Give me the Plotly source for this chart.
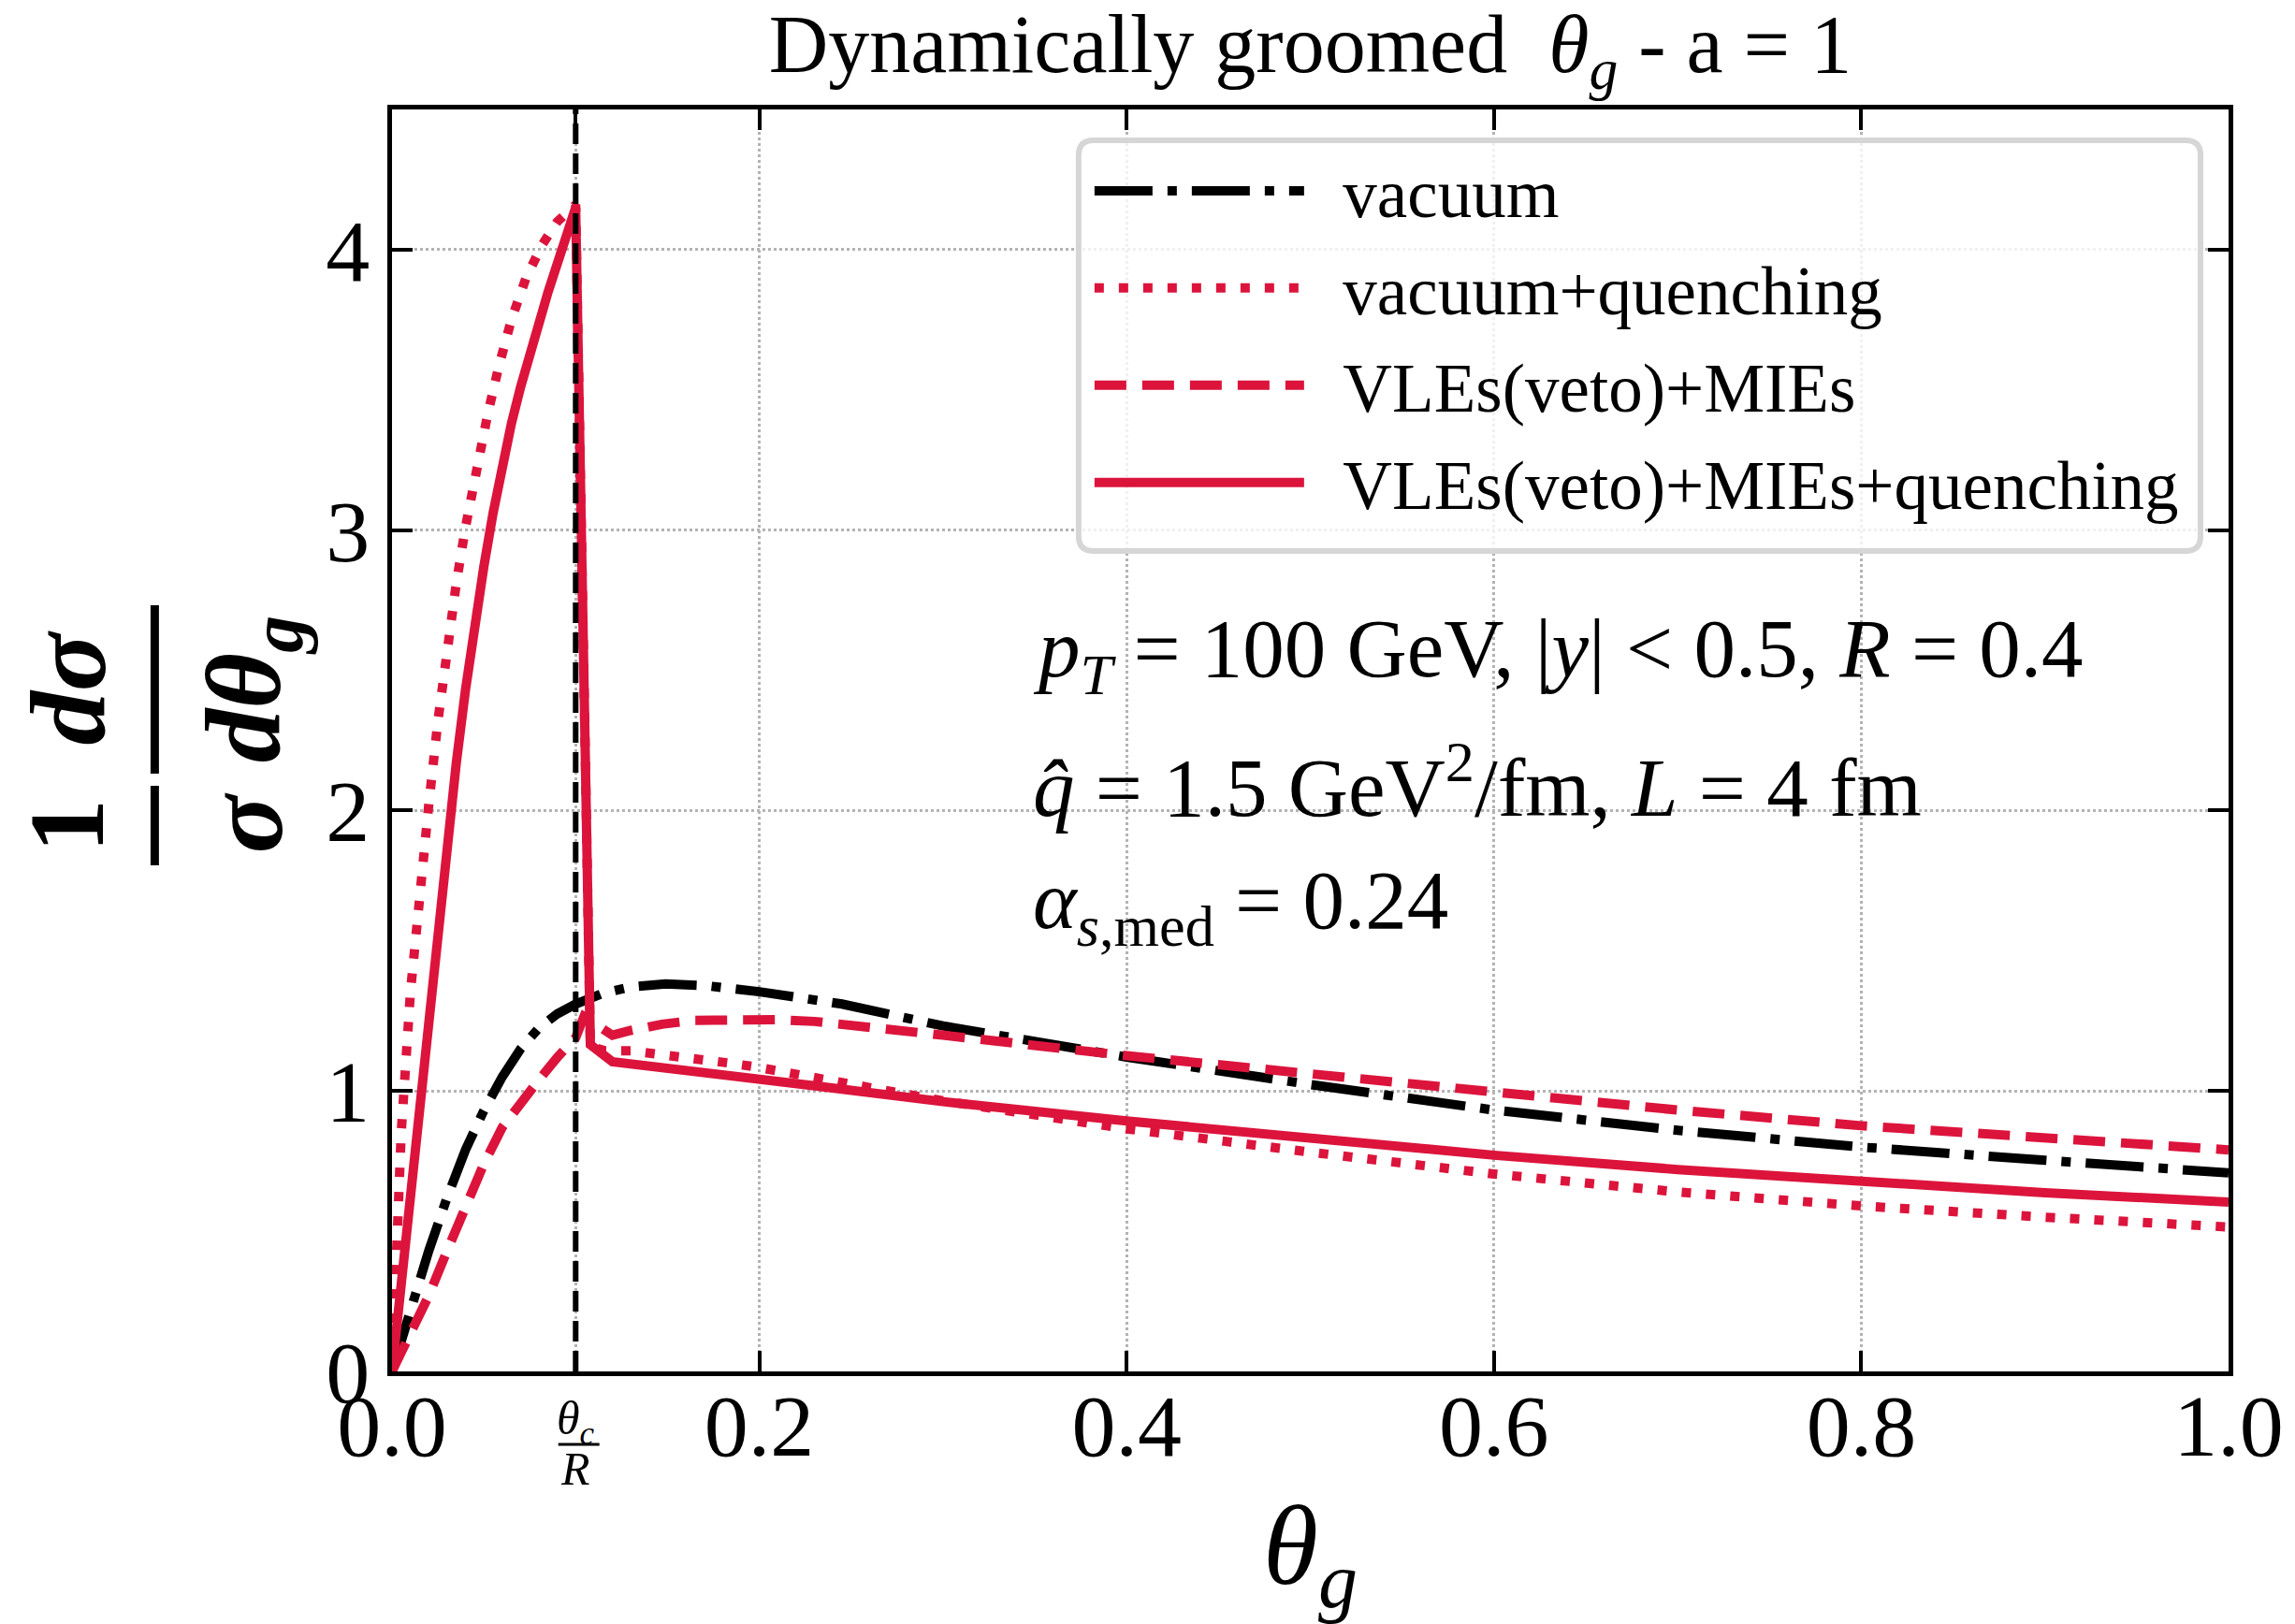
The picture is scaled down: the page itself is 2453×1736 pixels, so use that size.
import plotly.graph_objects as go

# ---------------- data ----------------
THETA_VAC = [0, 0.005, 0.01, 0.02, 0.03, 0.04, 0.05, 0.06, 0.07, 0.08, 0.09, 0.1, 0.115,
             0.13, 0.149, 0.17, 0.2, 0.245, 0.3, 0.4, 0.5, 0.6, 0.7, 0.8, 0.9, 1.0]
VAC = [0, 0.11, 0.22, 0.43, 0.62, 0.79, 0.93, 1.05, 1.15, 1.225, 1.275, 1.31, 1.349,
       1.371, 1.382, 1.376, 1.354, 1.31, 1.232, 1.121, 1.023, 0.932, 0.86, 0.80, 0.753, 0.708]

THETA_VQ = [0, 0.005, 0.01, 0.015, 0.02, 0.025, 0.03, 0.035, 0.04, 0.046, 0.052, 0.058,
            0.065, 0.073, 0.082, 0.09, 0.096, 0.1, 0.108, 0.116, 0.13, 0.143, 0.156, 0.17,
            0.183, 0.197, 0.21, 0.224, 0.245, 0.3, 0.4, 0.5, 0.6, 0.7, 0.8, 0.9, 1.0]
VQ = [0, 0.85, 1.35, 1.72, 2.02, 2.32, 2.58, 2.81, 3.01, 3.22, 3.41, 3.58,
      3.75, 3.9, 4.02, 4.1, 4.14, 4.16, 1.16, 1.143, 1.143, 1.134, 1.126, 1.115,
      1.1, 1.087, 1.07, 1.056, 1.03, 0.965, 0.865, 0.782, 0.704, 0.64, 0.59, 0.55, 0.515]

THETA_VM = [0, 0.01, 0.02, 0.03, 0.04, 0.05, 0.06, 0.07, 0.08, 0.09, 0.1, 0.1045, 0.12,
            0.13, 0.147, 0.165, 0.19, 0.21, 0.23, 0.245, 0.3, 0.4, 0.5, 0.6, 0.7, 0.8, 0.9, 1.0]
VM = [0, 0.13, 0.27, 0.43, 0.59, 0.74, 0.87, 0.96, 1.04, 1.12, 1.19, 1.265, 1.199,
      1.216, 1.238, 1.252, 1.256, 1.254, 1.248, 1.238, 1.199, 1.126, 1.06, 0.993, 0.932,
      0.876, 0.832, 0.79]

THETA_VMQ = [0, 0.01, 0.02, 0.025, 0.03, 0.035, 0.04, 0.045, 0.05, 0.055, 0.06, 0.065,
             0.07, 0.075, 0.08, 0.085, 0.09, 0.095, 0.1, 0.108, 0.12, 0.2345, 0.3, 0.4,
             0.5, 0.6, 0.7, 0.8, 0.9, 1.0]
VMQ = [0, 0.62, 1.28, 1.6, 1.9, 2.17, 2.43, 2.66, 2.87, 3.06, 3.23, 3.38,
       3.51, 3.63, 3.74, 3.85, 3.95, 4.05, 4.15, 1.165, 1.104, 1.015, 0.962, 0.893,
       0.83, 0.771, 0.72, 0.676, 0.637, 0.604]

THETA_C_OVER_R = 0.1

SERIES_NAMES = ["vacuum", "vacuum+quenching", "VLEs(veto)+MIEs", "VLEs(veto)+MIEs+quenching"]

X_TICKS = [0.0, 0.1, 0.2, 0.4, 0.6, 0.8, 1.0]
X_TICK_LABELS = ["0.0", "", "0.2", "0.4", "0.6", "0.8", "1.0"]
Y_TICKS = [0, 1, 2, 3, 4]
Y_TICK_LABELS = ["0", "1", "2", "3", "4"]

TITLE = "Dynamically groomed  <i>θ<sub>g</sub></i> - a = 1"
INFO_LINES = [
    "<i>p<sub>T</sub></i> = 100 GeV, |<i>y</i>| &lt; 0.5, <i>R</i> = 0.4",
    "<i>q\u0302</i> = 1.5 GeV<sup>2</sup>/fm, <i>L</i> = 4 fm",
    "<i>α<sub>s</sub></i><sub>,med</sub> = 0.24",
]

# ---------------- layout geometry ----------------
W, H = 2453, 1736
ML, MR, MT, MB = 419, 68, 117, 270
PW = W - ML - MR
PH = H - MT - MB
FONT = "Liberation Serif"
RED = "#DC143C"


def pxx(px):
    return (px - ML) / PW


def pxy(py):
    return (H - MB - py) / PH


fig = go.Figure()

LW = 10
styles = [
    dict(color="black", width=LW, dash="62px,16px,10px,16px"),
    dict(color=RED, width=LW, dash="10px,16px"),
    dict(color=RED, width=LW, dash="34px,17px"),
    dict(color=RED, width=LW, dash="solid"),
]
GAP = "\u00a0\u00a0"
datasets = [(THETA_VAC, VAC), (THETA_VQ, VQ), (THETA_VM, VM), (THETA_VMQ, VMQ)]
for i, ((xs, ys), name, st) in enumerate(zip(datasets, SERIES_NAMES, styles)):
    fig.add_trace(go.Scatter(x=xs, y=ys, mode="lines", name=GAP + name, line=st,
                             legendgroup=f"g{i}"))

axis_common = dict(
    ticks="inside", ticklen=22, tickwidth=4, tickcolor="black",
    showline=True, linewidth=5, linecolor="black", mirror="allticks",
    showgrid=True, gridcolor="#b3b3b3", griddash="dot", gridwidth=3,
    zeroline=False, tickfont=dict(family=FONT, size=94, color="black"),
)

fig.update_layout(
    width=W, height=H,
    margin=dict(l=ML, r=MR, t=MT, b=MB),
    paper_bgcolor="white", plot_bgcolor="white",
    font=dict(family=FONT, color="black"),
    title=dict(text=TITLE, x=pxx(1402), xref="paper", xanchor="center",
               y=1 - 46 / H, yref="container", yanchor="middle",
               font=dict(family=FONT, size=88, color="black")),
    xaxis=dict(range=[0, 1], tickmode="array", tickvals=X_TICKS, ticktext=X_TICK_LABELS,
               ticklabelstandoff=-28,
               title=dict(text="<i>θ<sub>g</sub></i>", standoff=45,
                          font=dict(family=FONT, size=120, color="black")),
               **axis_common),
    yaxis=dict(range=[0, 4.5], tickmode="array", tickvals=Y_TICKS, ticktext=Y_TICK_LABELS,
               **axis_common),
    legend=dict(x=pxx(1166), y=pxy(150), xanchor="left", yanchor="top",
                xref="paper", yref="paper",
                bgcolor="rgba(0,0,0,0)", borderwidth=0,
                font=dict(family=FONT, size=73, color="black"),
                itemwidth=224, tracegroupgap=6, traceorder="grouped"),
    showlegend=True,
)

shapes = []
# vertical theta_c/R line
shapes.append(dict(type="line", xref="x", yref="paper", x0=THETA_C_OVER_R, x1=THETA_C_OVER_R,
                   y0=0, y1=1, line=dict(color="black", width=6, dash="22px,10px"),
                   layer="above"))

# rounded legend frame
lx0, lx1, ly0, ly1 = 1154, 2355, 150, 589
r = 16
rx, ry = r / PW, r / PH
X0, X1, Y0, Y1 = pxx(lx0), pxx(lx1), pxy(ly1), pxy(ly0)
path = (f"M {X0+rx},{Y0} L {X1-rx},{Y0} Q {X1},{Y0} {X1},{Y0+ry} "
        f"L {X1},{Y1-ry} Q {X1},{Y1} {X1-rx},{Y1} L {X0+rx},{Y1} "
        f"Q {X0},{Y1} {X0},{Y1-ry} L {X0},{Y0+ry} Q {X0},{Y0} {X0+rx},{Y0} Z")
shapes.append(dict(type="path", xref="paper", yref="paper", path=path,
                   fillcolor="rgba(255,255,255,0.8)", line=dict(color="#d6d6d6", width=6),
                   layer="above"))

# y-label fraction bars
shapes.append(dict(type="line", xref="paper", yref="paper", x0=pxx(165), x1=pxx(165),
                   y0=pxy(840), y1=pxy(925), line=dict(color="black", width=9)))
shapes.append(dict(type="line", xref="paper", yref="paper", x0=pxx(165), x1=pxx(165),
                   y0=pxy(647), y1=pxy(827), line=dict(color="black", width=9)))
# theta_c / R tick-label fraction bar
shapes.append(dict(type="line", xref="paper", yref="paper", x0=pxx(597), x1=pxx(641),
                   y0=pxy(1544), y1=pxy(1544), line=dict(color="black", width=3)))
fig.update_layout(shapes=shapes)

ann = []
YL = 115
ann.append(dict(text="<b>1</b>", x=pxx(70), y=pxy(883), textangle=-90))
ann.append(dict(text="<b><i>dσ</i></b>", x=pxx(72), y=pxy(735), textangle=-90))
ann.append(dict(text="<b><i>σ</i></b>", x=pxx(262), y=pxy(880), textangle=-90))
ann.append(dict(text="<b><i>dθ<sub>g</sub></i></b>", x=pxx(268), y=pxy(737), textangle=-90))
for a in ann:
    a.update(xref="paper", yref="paper", xanchor="center", yanchor="middle",
             showarrow=False, font=dict(family=FONT, size=YL, color="black"))

# theta_c/R label
ann.append(dict(text="<i>θ<sub>c</sub></i>", x=THETA_C_OVER_R, xref="x", y=pxy(1520), yref="paper",
                xanchor="center", yanchor="middle", showarrow=False,
                font=dict(family=FONT, size=50, color="black")))
ann.append(dict(text="<i>R</i>", x=THETA_C_OVER_R, xref="x", y=pxy(1570), yref="paper",
                xanchor="center", yanchor="middle", showarrow=False,
                font=dict(family=FONT, size=50, color="black")))

# info text
for txt, cy in zip(INFO_LINES, [699, 835, 968]):
    ann.append(dict(text=txt, x=pxx(1103), y=pxy(cy), xref="paper", yref="paper",
                    xanchor="left", yanchor="middle", showarrow=False,
                    font=dict(family=FONT, size=89, color="black")))

fig.update_layout(annotations=ann)

fig.write_html("out.html")
